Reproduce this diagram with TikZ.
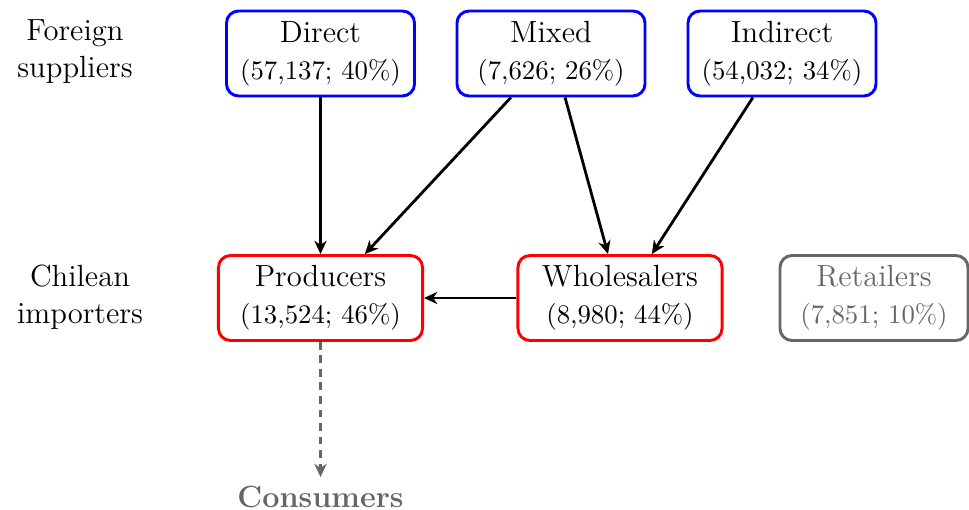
\documentclass[tikz,border=0pt]{standalone}
\usetikzlibrary{arrows.meta}
\newcommand{\bigtxt}{\fontsize{12}{14.5}\selectfont}
\newcommand{\numtxt}{\fontsize{10.5}{12.5}\selectfont}
\begin{document}
\begin{tikzpicture}[x=0.392pt,y=-0.392pt,
  box/.style={draw,rounded corners=4.7pt,line width=1.15pt,align=center,minimum height=33.3pt,inner sep=2pt,font=\bigtxt},
  supp/.style={box,blue,text=black,minimum width=73.7pt},
  imp/.style={box,red,text=black,minimum width=80pt},
  ret/.style={box,black!60,text=black!60,minimum width=73.7pt},
  lab/.style={align=center,font=\bigtxt},
  arr/.style={-{Stealth[length=5.2pt,width=4.8pt,inset=1.6pt]},line width=1.1pt}]
\useasboundingbox (0,0) rectangle (969,510);
\node[lab] (fs) at (75,52) {Foreign\\suppliers};
\node[lab] (ci) at (80,297) {Chilean\\importers};
\node[supp] (direct) at (320.5,53.5) {Direct\\{\numtxt(57,137; 40\%)}};
\node[supp] (mixed) at (551,53.5) {Mixed\\{\numtxt(7,626; 26\%)}};
\node[supp] (indirect) at (782,53.5) {Indirect\\{\numtxt(54,032; 34\%)}};
\node[imp] (prod) at (320.5,298) {Producers\\{\numtxt(13,524; 46\%)}};
\node[imp] (whole) at (620,298) {Wholesalers\\{\numtxt(8,980; 44\%)}};
\node[ret] (ret) at (874,298) {Retailers\\{\numtxt(7,851; 10\%)}};
\node[text=black!60,font=\bigtxt\bfseries] (cons) at (320.5,497) {Consumers};
\draw[arr] (direct.south) -- (prod.north);
\draw[arr] ([xshift=-15.7pt]mixed.south) -- ([xshift=17.4pt]prod.north);
\draw[arr] ([xshift=5.5pt]mixed.south) -- ([xshift=-4.7pt]whole.north);
\draw[arr] ([xshift=-11.4pt]indirect.south) -- ([xshift=12.5pt]whole.north);
\draw[arr] (whole.west) -- (prod.east);
\draw[arr,dash pattern=on 3pt off 2.3pt,black!60] (prod.south) -- (cons.north);
\end{tikzpicture}
\end{document}
